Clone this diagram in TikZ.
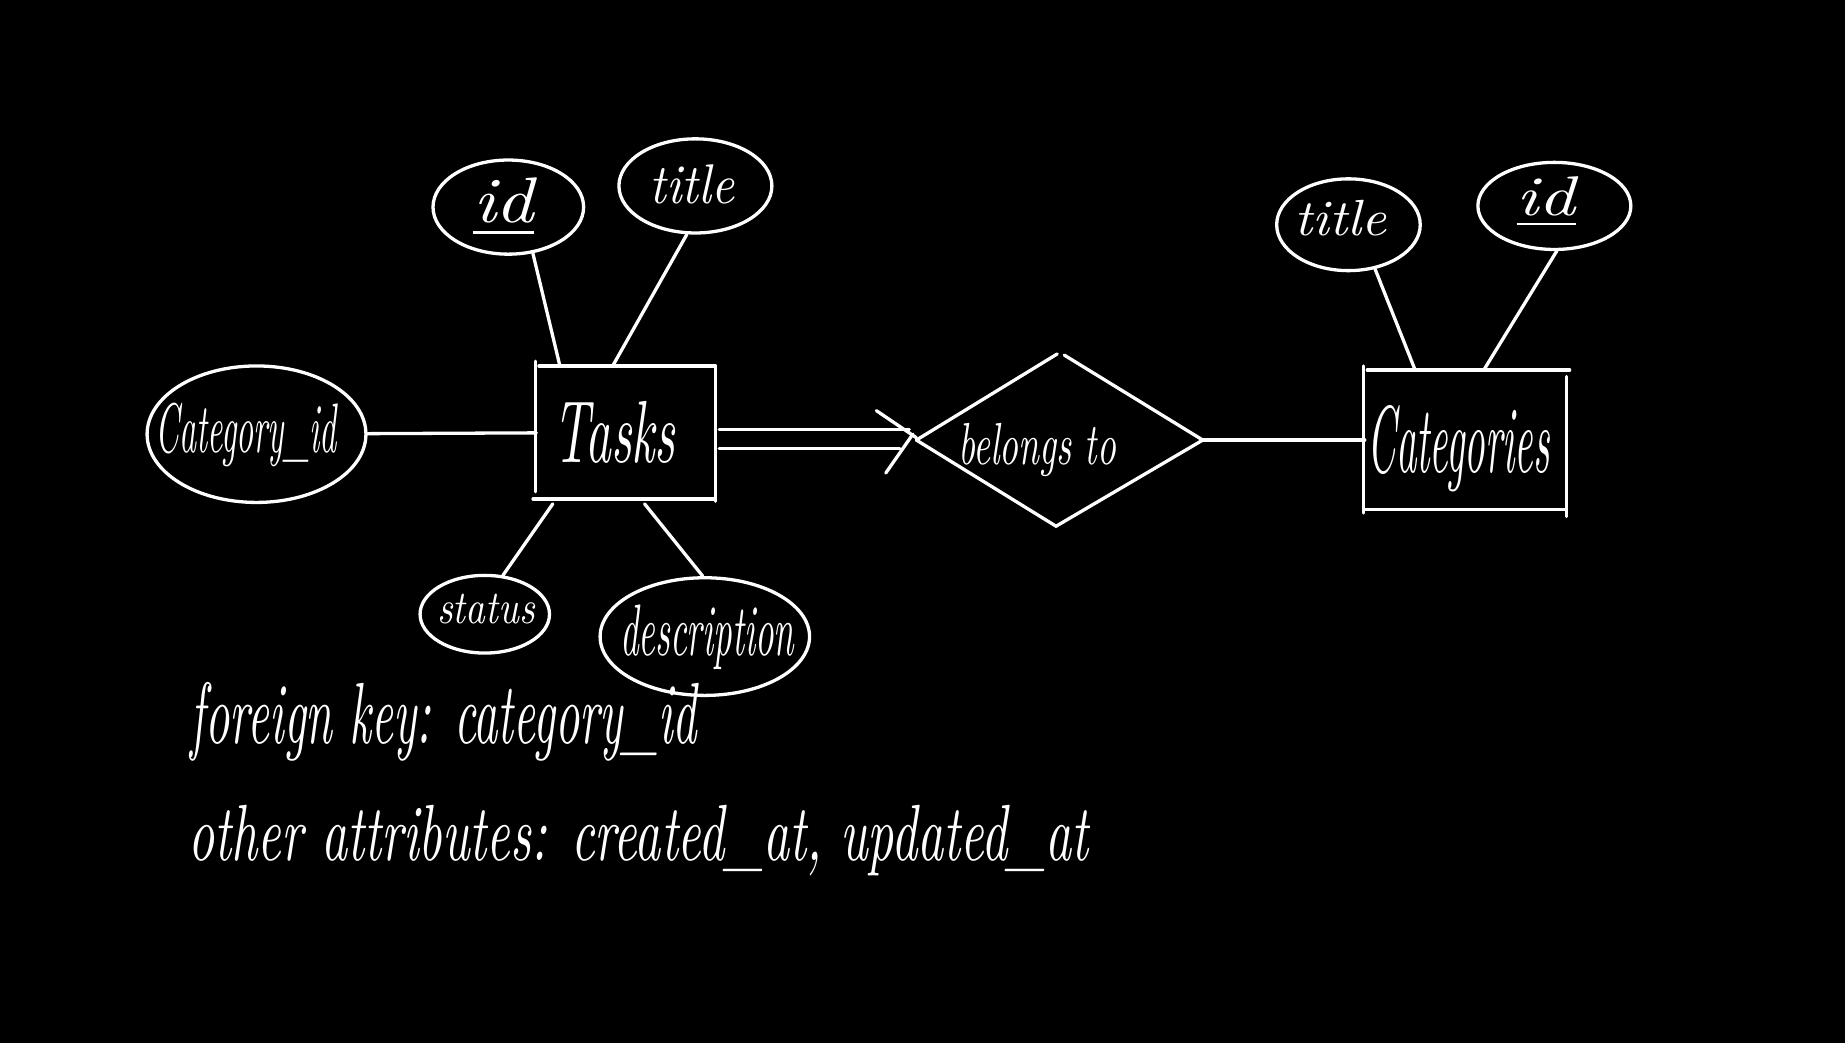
\documentclass[tikz,border=0pt]{standalone}
\usetikzlibrary{calc,shapes.geometric}
% hand-lettered label: width, height above baseline, text
\newcommand{\hw}[3]{\resizebox{#1pt}{#2pt}{\itshape #3}}
\begin{document}
\begin{tikzpicture}[x=1pt,y=-1pt,
  ink/.style={draw=white, line width=2.8pt, line cap=round},
  attr/.style={ellipse, draw=white, line width=2.8pt, inner sep=0pt},
  box/.style={rectangle, inner sep=0pt},
  txt/.style={text=white, inner sep=0pt},
  note/.style={text=white, inner sep=0pt, anchor=base west}]
\fill[black] (0,0) rectangle (1568,886);
\useasboundingbox (0,0) rectangle (1568,886);

% entity Tasks and its attributes
\node[box, minimum width=152pt, minimum height=113pt,
      label={[txt, shift={(-10,0)}]center:\hw{104}{52}{Tasks}}] (tasks) at (532,367.5) {};
\node[attr, minimum width=186pt, minimum height=116pt,
      label={[txt, shift={(-9,1)}]center:\hw{154}{42}{Category\_id}}] (catid) at (218,369) {};
\node[attr, minimum width=128pt, minimum height=80pt,
      label={[txt, shift={(-4,0)}]center:\hw{52}{38}{\underline{id}}}] (id1) at (432,176) {};
\node[attr, minimum width=130pt, minimum height=80pt,
      label={[txt, shift={(-3,-1)}]center:\hw{72}{33}{title}}] (title1) at (591,158) {};
\node[attr, minimum width=110pt, minimum height=66pt,
      label={[txt, shift={(1,-4)}]center:\hw{83}{25}{status}}] (status) at (412,522) {};
\node[attr, minimum width=178pt, minimum height=100pt,
      label={[txt, shift={(2,1)}]center:\hw{148}{43}{description}}] (desc) at (599,541) {};

% relationship
\node[box, minimum width=243pt, minimum height=146pt,
      label={[txt, shift={(-19,8)}]center:\hw{134}{35}{belongs to}}] (rel) at (900.5,374) {};

% entity Categories and its attributes
\node[box, minimum width=171pt, minimum height=118pt,
      label={[txt, shift={(-6,7)}]center:\hw{155}{57}{Categories}}] (cats) at (1245.5,374) {};
\node[attr, minimum width=122pt, minimum height=78pt,
      label={[txt, shift={(-7,-6)}]center:\hw{78}{30}{title}}] (ctitle) at (1146,191) {};
\node[attr, minimum width=130pt, minimum height=74pt,
      label={[txt, shift={(-7,-3)}]center:\hw{50}{33}{\underline{id}}}] (cid) at (1321,175) {};

% sketched outlines of the two entity boxes
\draw[ink] (455,307) -- (455,418);
\draw[ink] (458,311) -- (608,311);
\draw[ink] (608,311) -- (608,426);
\draw[ink] (453,424) -- (608,424);
\draw[ink] (1159,311) -- (1159,436);
\draw[ink] (1162,314.5) -- (1334,314.5);
\draw[ink] (1331,320) -- (1331,439);
\draw[ink] (1159,433) -- (1331,433);

% sketched diamond
\draw[ink] (rel.west) -- ($(rel.north)+(-2,0)$);
\draw[ink] ($(rel.north)+(4,1)$) -- (rel.east) -- ($(rel.south)+(-3,0)$) -- (rel.west);

% attribute links
\draw[ink] (catid) -- (tasks);
\draw[ink] (id1.-62) -- ($(tasks.north west)+(20,0)$);
\draw[ink] (title1.-100) -- ($(tasks.north west)+(65,0)$);
\draw[ink] (status.65) -- ($(tasks.south west)+(14,4)$);
\draw[ink] (desc.92) -- ($(tasks.south west)+(92,4)$);
\draw[ink] (ctitle.-59) -- ($(cats.north west)+(43,0)$);
\draw[ink] (cid.-87) -- ($(cats.north west)+(101,0)$);

% total participation: double line with arrow into the relationship
\draw[ink] ($(tasks.east)+(3,-2.5)$) -- ($(rel.west)+(-6,-9)$);
\draw[ink] ($(tasks.east)+(3,13.5)$) -- ($(rel.west)+(-14,7)$);
\draw[ink] ($(rel.west)+(-34,-25)$) -- ($(rel.west)+(0,-2)$);
\draw[ink] ($(rel.west)+(-3,-5)$) -- ($(rel.west)+(-26,28)$);

% relationship to Categories
\draw[ink] (rel.east) -- (rel.east -| cats.west);

% notes
\node[note] (fk) at (162,632) {\hw{430}{52}{foreign key: category\_id}};
\node[note] (other) at (160,731) {\hw{765}{47}{other attributes: created\_at, updated\_at}};
\end{tikzpicture}
\end{document}
